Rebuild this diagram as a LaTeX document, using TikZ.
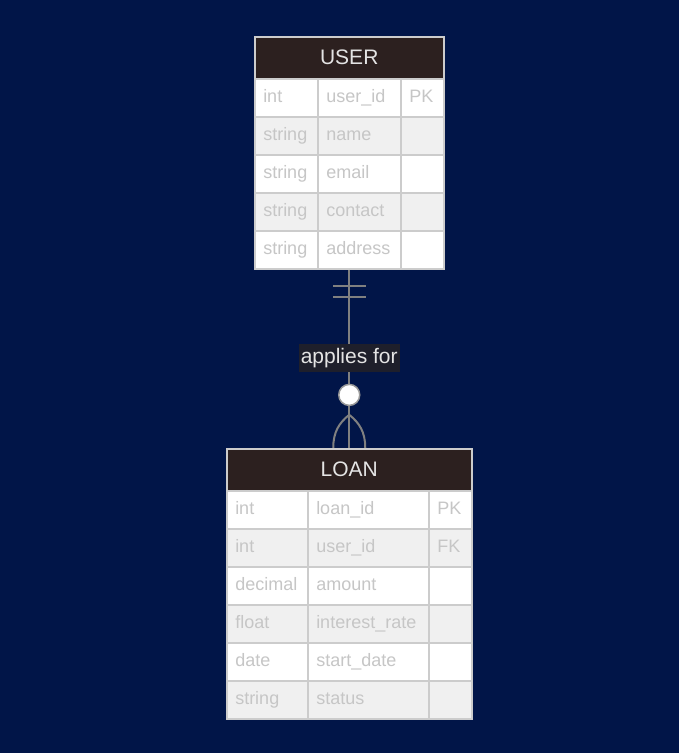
\documentclass[tikz,border=0pt]{standalone}
\usepackage{fontspec}
\setmainfont{Liberation Sans}
\usetikzlibrary{positioning,fit,calc}
\definecolor{navy900}{HTML}{011548}
\definecolor{brown900}{HTML}{2C201F}
\definecolor{gray300}{HTML}{CCCCCC}
\definecolor{gray100}{HTML}{F0F0F0}
\definecolor{celltext}{HTML}{C6C6C6}
\definecolor{headtext}{HTML}{E4E4E4}
\definecolor{linkgray}{HTML}{808080}
\definecolor{labelbg}{HTML}{1E1F2B}

\begin{document}
\begin{tikzpicture}[x=1pt,y=-1pt]
  % Styles
  \tikzset{
    header/.style={draw=gray300, line width=1.5pt, fill=brown900, text=headtext, font=\fontsize{21}{24}\selectfont, minimum height=42pt, inner sep=0pt, anchor=north west},
    cell/.style={draw=gray300, line width=1.5pt, text=celltext, font=\fontsize{18}{20}\selectfont, text width=#1, inner xsep=8.5pt, inner ysep=0pt, minimum height=38pt, text height=13pt, text depth=4pt, anchor=north west},
    link/.style={draw=linkgray, line width=2pt},
    tag/.style={fill=labelbg, text=headtext, font=\fontsize{21}{24}\selectfont, inner xsep=2pt, inner ysep=4pt},
  }

  % Background
  \fill[navy900] (0,0) rectangle (679,753);
  \useasboundingbox (0,0) rectangle (679,753);

  % USER table
  \node[header, minimum width=189pt] (userhead) at (254,36) {USER};
  \foreach \type/\field/\key [count=\i] in {int/user\_id/PK, string/name/{}, string/email/{}, string/contact/{}, string/address/{}} {
    \ifodd\i\def\rowfill{white}\else\def\rowfill{gray100}\fi
    \node[cell=46pt, fill=\rowfill] (user-\i-1) at (254,{78+38*(\i-1)}) {\type};
    \node[cell=66pt, fill=\rowfill] (user-\i-2) at (317,{78+38*(\i-1)}) {\field};
    \node[cell=26pt, fill=\rowfill] (user-\i-3) at (400,{78+38*(\i-1)}) {\key};
  }
  \node[fit=(userhead)(user-5-3), inner sep=0pt] (user) {};

  % LOAN table
  \node[header, minimum width=245pt] (loanhead) at (226,448) {LOAN};
  \foreach \type/\field/\key [count=\i] in {int/loan\_id/PK, int/user\_id/FK, decimal/amount/{}, float/interest\_rate/{}, date/start\_date/{}, string/status/{}} {
    \ifodd\i\def\rowfill{white}\else\def\rowfill{gray100}\fi
    \node[cell=64pt, fill=\rowfill] (loan-\i-1) at (226,{490+38*(\i-1)}) {\type};
    \node[cell=104pt, fill=\rowfill] (loan-\i-2) at (307,{490+38*(\i-1)}) {\field};
    \node[cell=26pt, fill=\rowfill] (loan-\i-3) at (428,{490+38*(\i-1)}) {\key};
  }
  \node[fit=(loanhead)(loan-6-3), inner sep=0pt] (loan) {};

  % Relationship
  \draw[link] (user.south) -- (loan.north)
    node[tag, pos=0.495] (rel) {applies for}
    node[circle, draw=linkgray!80!white, line width=1.5pt, fill=white, minimum size=21pt, inner sep=0pt, pos=0.703] (zero) {};
  \draw[link] ($(user.south)+(-16,16)$) -- ++(33,0);
  \draw[link] ($(user.south)+(-16,27)$) -- ++(33,0);
  \draw[link] ($(loan.north)+(0,-33)$) .. controls +(-10,8) and +(0,-16) .. ($(loan.north)+(-16,0)$);
  \draw[link] ($(loan.north)+(0,-33)$) .. controls +(10,8) and +(0,-16) .. ($(loan.north)+(16,0)$);
\end{tikzpicture}
\end{document}
